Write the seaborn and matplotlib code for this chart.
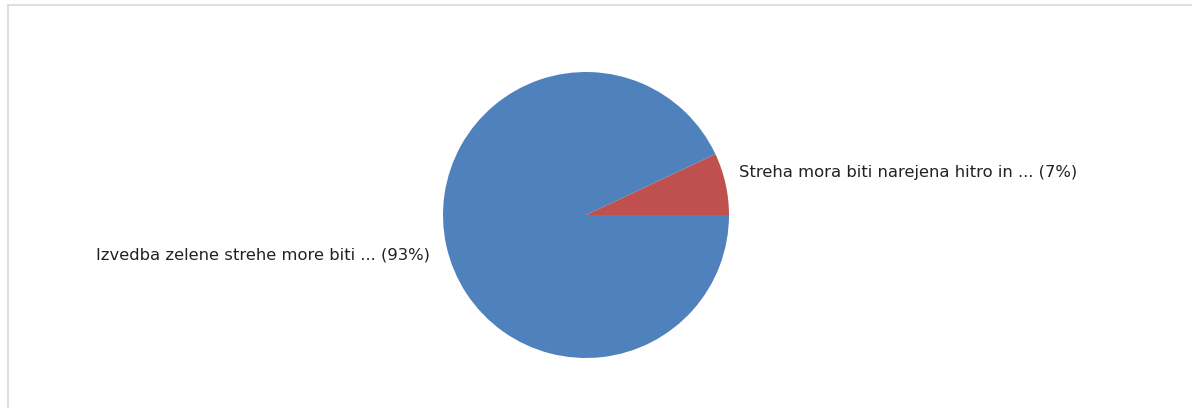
import matplotlib
matplotlib.use("Agg")
import matplotlib.pyplot as plt
from matplotlib.lines import Line2D
import seaborn as sns

# --- DATA ---
labels = [
    "Streha mora biti narejena hitro in ... (7%)",
    "Izvedba zelene strehe more biti ... (93%)",
]
shares = [7, 93]
colors = ["#c0504d", "#4f81bd"]

# label anchor points (in pie radius units)
label_pos = [(1.07, 0.30), (-1.09, -0.28)]

sns.set_style("white")
plt.rcParams["font.family"] = ["DejaVu Sans"]

W, H = 1192, 408
fig = plt.figure(figsize=(W / 100, H / 100), dpi=100)

# pie axes: center (586, 215) px, radius ~143 px
cx, cy, r = 586, 215, 143
ax = fig.add_axes([(cx - r) / W, (H - cy - r) / H, 2 * r / W, 2 * r / H])

wedges, texts = ax.pie(
    shares,
    labels=labels,
    colors=colors,
    startangle=0,
    counterclock=True,
    labeldistance=1.1,
    wedgeprops=dict(linewidth=0),
    textprops=dict(fontsize=11.75, color="#222222"),
)
ax.set_xlim(-1, 1)
ax.set_ylim(-1, 1)
for t, pos in zip(texts, label_pos):
    t.set_position(pos)
    t.set_va("center")
    t.set_clip_on(False)

# light gray frame (top + left)
fig.add_artist(Line2D([8 / W, 1], [1 - 5 / H, 1 - 5 / H], color="#dedede", lw=1.5, transform=fig.transFigure))
fig.add_artist(Line2D([8 / W, 8 / W], [0, 1 - 5 / H], color="#dedede", lw=1.5, transform=fig.transFigure))

fig.savefig("out.png", dpi=100)
